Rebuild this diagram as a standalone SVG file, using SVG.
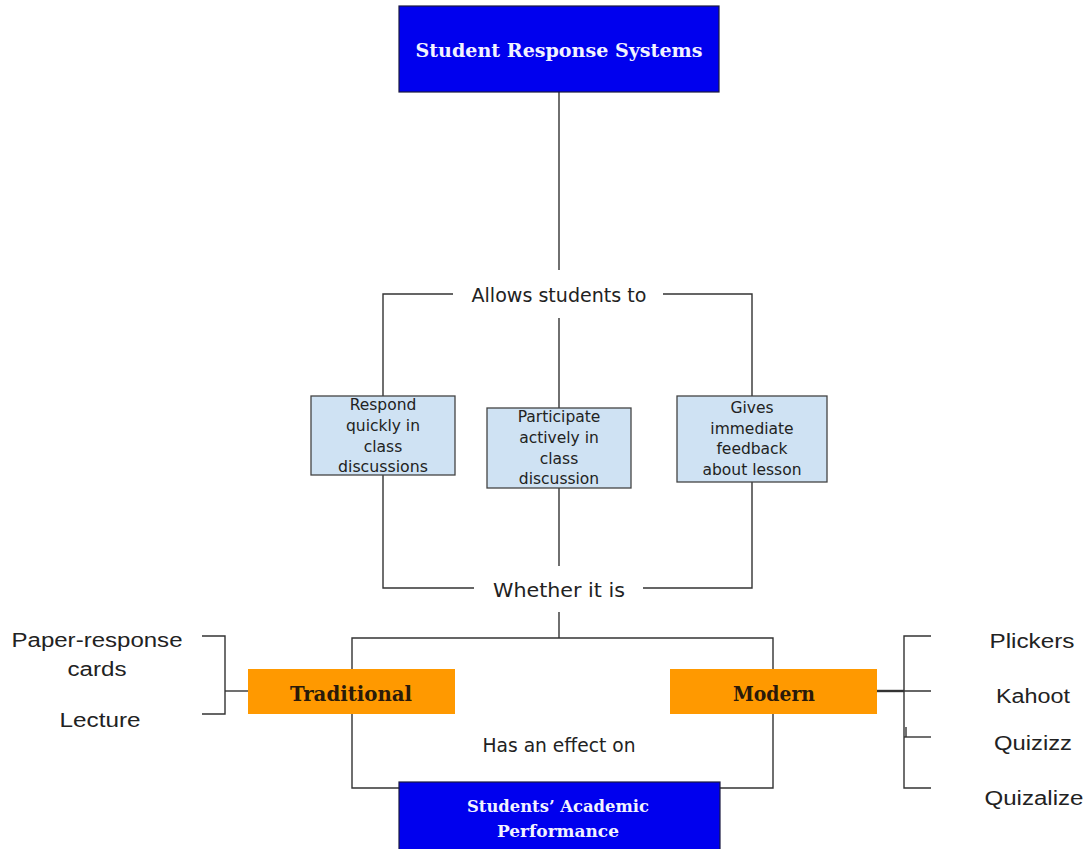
<svg xmlns="http://www.w3.org/2000/svg" width="1088" height="849" viewBox="0 0 1088 849">
<style>
.conn line, .conn polyline { stroke:#333; stroke-width:1.4; fill:none; }
.blue rect { fill:#0000ee; stroke:#1a1a40; stroke-width:1.2; }
.blue text { fill:#f2f2ff; font-family:"DejaVu Serif","Liberation Serif",serif; font-weight:bold; text-anchor:middle; }
.lb rect { fill:#cfe2f3; stroke:#444; stroke-width:1.3; }
.lb text { fill:#222; font-family:"DejaVu Sans",Verdana,sans-serif; font-size:15.5px; text-anchor:middle; }
.or rect { fill:#ff9900; }
.or text { fill:#2a1a0a; font-family:"DejaVu Serif","Liberation Serif",serif; font-weight:bold; font-size:20px; text-anchor:middle; }
.lab { fill:#222; font-family:"DejaVu Sans",Verdana,sans-serif; font-size:19px; text-anchor:middle; }
.item { fill:#222; font-family:"Liberation Sans",Arial,sans-serif; font-size:20px; text-anchor:middle; }
</style>
<rect width="1088" height="849" fill="#fff"/>
<g class="conn" id="connectors">
  <line x1="559" y1="92" x2="559" y2="270"/>
  <polyline points="453,294 383,294 383,396"/>
  <polyline points="663,294 752,294 752,396"/>
  <line x1="559" y1="318" x2="559" y2="408"/>
  <line x1="559" y1="488" x2="559" y2="566"/>
  <polyline points="383,475 383,588 474,588"/>
  <polyline points="752,482 752,588 643,588"/>
  <line x1="559" y1="612" x2="559" y2="638"/>
  <polyline points="352,669 352,638 773,638 773,669"/>
  <polyline points="202,636 225,636 225,714 202,714"/>
  <line x1="225" y1="691" x2="248" y2="691"/>
  <polyline points="931,636 904,636 904,788 931,788"/>
  <line x1="877" y1="691" x2="931" y2="691"/>
  <line x1="877" y1="691" x2="904" y2="691" style="stroke-width:2.4"/>
  <line x1="904" y1="737" x2="931" y2="737"/>
  <line x1="906" y1="727" x2="906" y2="737"/>
  <polyline points="352,714 352,788 399,788"/>
  <polyline points="773,714 773,788 720,788"/>
</g>
<g id="node-srs" class="blue">
  <rect x="399" y="6" width="320" height="86"/>
  <text x="559" y="57" font-size="19" textLength="287" lengthAdjust="spacingAndGlyphs">Student Response Systems</text>
</g>
<text id="label-allows" class="lab" x="559" y="302" textLength="175" lengthAdjust="spacingAndGlyphs">Allows students to</text>
<g id="node-respond" class="lb">
  <rect x="311" y="396" width="144" height="79"/>
  <text x="383" y="410">Respond</text>
  <text x="383" y="431">quickly in</text>
  <text x="383" y="452">class</text>
  <text x="383" y="472" textLength="90" lengthAdjust="spacingAndGlyphs">discussions</text>
</g>
<g id="node-participate" class="lb">
  <rect x="487" y="408" width="144" height="80"/>
  <text x="559" y="422">Participate</text>
  <text x="559" y="443">actively in</text>
  <text x="559" y="464">class</text>
  <text x="559" y="484">discussion</text>
</g>
<g id="node-feedback" class="lb">
  <rect x="677" y="396" width="150" height="86"/>
  <text x="752" y="413">Gives</text>
  <text x="752" y="434">immediate</text>
  <text x="752" y="454">feedback</text>
  <text x="752" y="475">about lesson</text>
</g>
<text id="label-whether" class="lab" x="559" y="597" textLength="132" lengthAdjust="spacingAndGlyphs">Whether it is</text>
<g id="node-traditional" class="or">
  <rect x="248" y="669" width="207" height="45"/>
  <text x="351" y="701" textLength="122" lengthAdjust="spacingAndGlyphs">Traditional</text>
</g>
<g id="node-modern" class="or">
  <rect x="670" y="669" width="207" height="45"/>
  <text x="774" y="701" textLength="82" lengthAdjust="spacingAndGlyphs">Modern</text>
</g>
<g id="node-paper"><text class="item" x="97" y="647" textLength="171" lengthAdjust="spacingAndGlyphs">Paper-response</text><text class="item" x="97" y="676" textLength="59" lengthAdjust="spacingAndGlyphs">cards</text></g>
<g id="node-lecture"><text class="item" x="100" y="727" textLength="81" lengthAdjust="spacingAndGlyphs">Lecture</text></g>
<g id="node-plickers"><text class="item" x="1032" y="648" textLength="85" lengthAdjust="spacingAndGlyphs">Plickers</text></g>
<g id="node-kahoot"><text class="item" x="1033" y="703" textLength="74" lengthAdjust="spacingAndGlyphs">Kahoot</text></g>
<g id="node-quizizz"><text class="item" x="1033" y="750" textLength="78" lengthAdjust="spacingAndGlyphs">Quizizz</text></g>
<g id="node-quizalize"><text class="item" x="1034" y="805" textLength="99" lengthAdjust="spacingAndGlyphs">Quizalize</text></g>
<text id="label-effect" class="lab" x="559" y="752" textLength="153" lengthAdjust="spacingAndGlyphs">Has an effect on</text>
<g id="node-performance" class="blue">
  <rect x="399" y="782" width="321" height="70"/>
  <text x="558" y="812" font-size="16" textLength="182" lengthAdjust="spacingAndGlyphs">Students’ Academic</text>
  <text x="558" y="837" font-size="16" textLength="122" lengthAdjust="spacingAndGlyphs">Performance</text>
</g>
</svg>
